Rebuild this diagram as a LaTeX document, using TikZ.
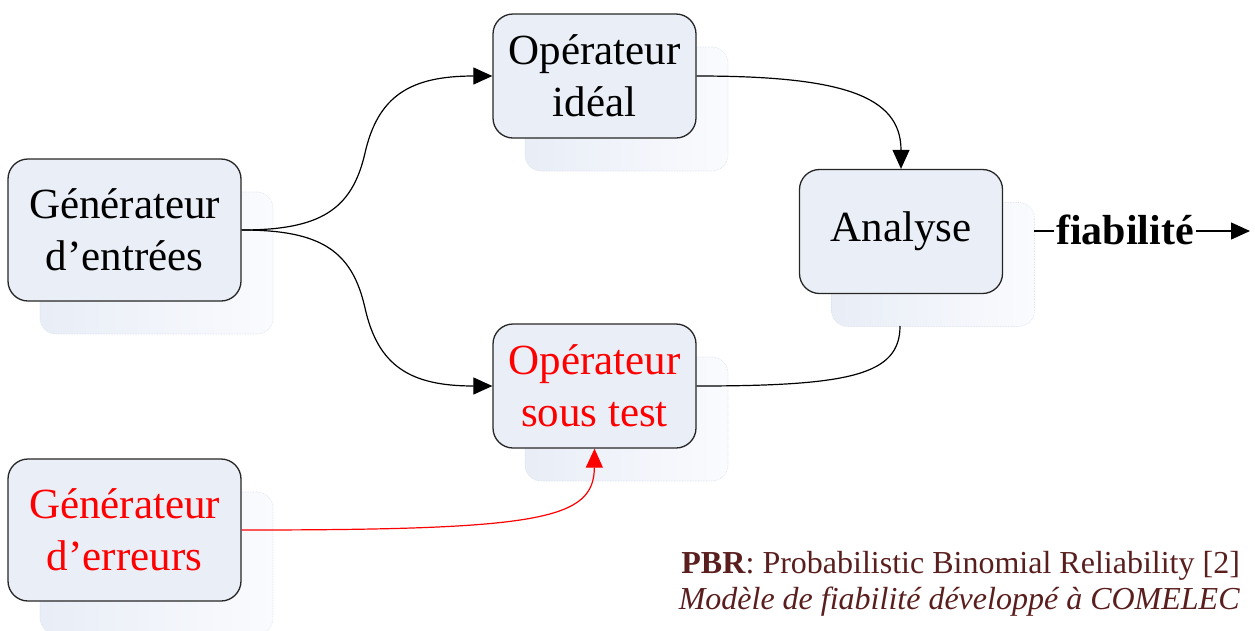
\documentclass[tikz,border=0pt]{standalone}
\usepackage{fontspec}
\setmainfont{Liberation Serif}
\usetikzlibrary{arrows.meta}
\definecolor{boxfill}{RGB}{234,239,247}
\definecolor{shadL}{RGB}{232,237,246}
\definecolor{shadR}{RGB}{250,251,254}
\definecolor{shadB}{RGB}{215,222,235}
\definecolor{capcol}{RGB}{90,30,30}
\begin{document}
\begin{tikzpicture}[x=1pt,y=-1pt,
 box/.style={draw=black!85, line width=1.3pt, fill=boxfill, rounded corners=20pt, align=center, inner sep=0pt, font=\fontsize{43}{52}\selectfont},
 shad/.style={draw=shadB, densely dotted, line width=0.6pt, left color=shadL, right color=shadR, rounded corners=16pt, inner sep=0pt},
 wide/.style={minimum width=233pt, minimum height=142pt},
 narrow/.style={minimum width=203pt, minimum height=124pt},
 conn/.style={line width=1.2pt},
 tip/.style={-{Triangle[length=19pt,width=17pt]}}
]
\useasboundingbox (0,0) rectangle (1255,630);
% shadows
\node[shad, wide] (ges) at (156.5,263) {};
\node[shad, narrow] (ois) at (626.5,109) {};
\node[shad, narrow] (ans) at (933,264.5) {};
\node[shad, narrow] (oss) at (626.5,419) {};
\node[shad, wide] (grs) at (156.5,563) {};
% boxes
\node[box, wide] (ge) at (124.5,230) {Générateur\\d’entrées};
\node[box, narrow] (oi) at (594.5,76) {Opérateur\\idéal};
\node[box, narrow] (an) at (901,231.5) {Analyse};
\node[box, narrow, text=red] (os) at (594.5,386) {Opérateur\\sous test};
\node[box, wide, text=red] (gr) at (124.5,530) {Générateur\\d’erreurs};
% connectors
\draw[conn, tip] (ge.east) .. controls (320,230) and (352,210) .. (365,153) .. controls (378,96) and (410,76) .. (oi.west);
\draw[conn, tip] (ge.east) .. controls (320,230) and (352,250) .. (365,308) .. controls (378,366) and (410,386) .. (os.west);
\draw[conn, tip] (oi.east) .. controls (840,76) and (901,95) .. (an.north);
\coordinate (anb) at (900,326);
\draw[conn] (os.east) .. controls (850,386) and (900,375) .. (anb);
\draw[conn, red, tip] (gr.east) .. controls (540,530) and (594,520) .. (os.south);
% output
\node[font=\bfseries\fontsize{42}{50}\selectfont, inner sep=2pt, anchor=base] (fb) at (1125,244) {fiabilité};
\coordinate (fl) at (1034,231);
\coordinate (fr) at (1250,231);
\draw[conn] (fl) -- (fl -| fb.west);
\draw[conn, tip] (fr -| fb.east) -- (fr);
% caption
\node[anchor=east, align=right, text=capcol, font=\fontsize{32}{36}\selectfont, inner sep=0pt] (cap) at (1240,584) {\textbf{PBR}: Probabilistic Binomial Reliability [2]\\\textit{Modèle de fiabilité développé à COMELEC}};
\end{tikzpicture}
\end{document}
